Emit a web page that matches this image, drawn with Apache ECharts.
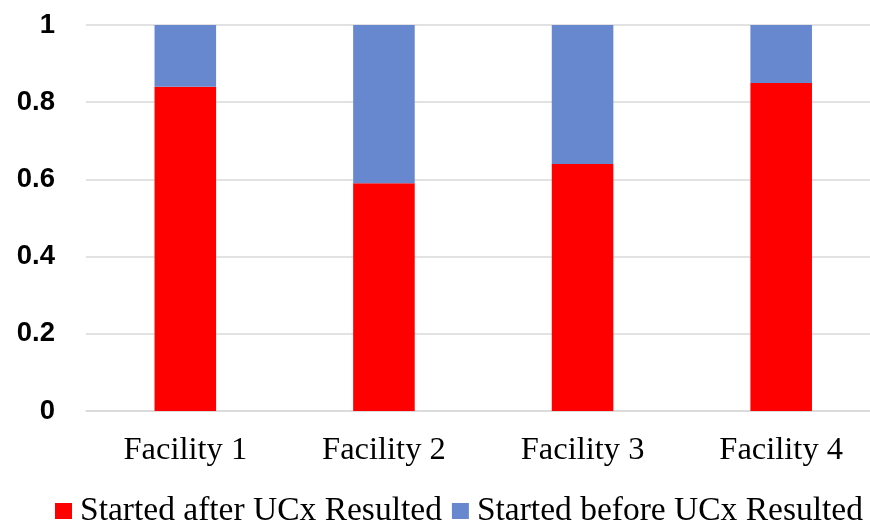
<!DOCTYPE html>
<html>
<head>
<meta charset="utf-8">
<script src="https://cdn.jsdelivr.net/npm/echarts@6/dist/echarts.min.js"></script>
<style>html,body{margin:0;padding:0;background:#fff}#c{width:870px;height:524px}</style>
</head>
<body>
<div id="c"></div>
<script>
var categories = ['Facility 1', 'Facility 2', 'Facility 3', 'Facility 4'];
var afterName = 'Started after UCx Resulted';
var beforeName = 'Started before UCx Resulted';
var afterValues = [0.84, 0.59, 0.64, 0.85];
var beforeValues = [0.16, 0.41, 0.36, 0.15];

var chart = echarts.init(document.getElementById('c'));
chart.setOption({
  animation: false,
  backgroundColor: '#ffffff',
  grid: { left: 86, width: 794.5, top: 25, bottom: 113, containLabel: false, outerBoundsMode: 'none' },
  legend: {
    top: 494,
    left: 55,
    width: 860,
    padding: 0,
    itemWidth: 17,
    itemHeight: 16,
    itemGap: 10,
    icon: 'rect',
    textStyle: { fontFamily: 'Liberation Serif', fontSize: 33.5, color: '#000', padding: [0, 0, 0, 3] },
    data: [afterName, beforeName]
  },
  xAxis: {
    type: 'category',
    data: categories,
    axisLine: { show: true, lineStyle: { color: '#d9d9d9', width: 1.5 } },
    axisTick: { show: false },
    axisLabel: { fontFamily: 'Liberation Serif', fontSize: 32.5, color: '#000', margin: 23 }
  },
  yAxis: {
    type: 'value',
    min: 0,
    max: 1,
    interval: 0.2,
    axisLine: { show: false },
    axisTick: { show: false },
    splitLine: { lineStyle: { color: '#d9d9d9', width: 1.5 } },
    axisLabel: { fontFamily: 'Liberation Sans', fontWeight: 'bold', fontSize: 27.5, color: '#000', margin: 31,
      formatter: function (v) { return String(Math.round(v * 10) / 10); } }
  },
  series: [
    { name: afterName, type: 'bar', stack: 'a', data: afterValues, barWidth: '31%', itemStyle: { color: '#ff0000' } },
    { name: beforeName, type: 'bar', stack: 'a', data: beforeValues, barWidth: '31%', itemStyle: { color: '#6788cf' } }
  ]
});
</script>
</body>
</html>
